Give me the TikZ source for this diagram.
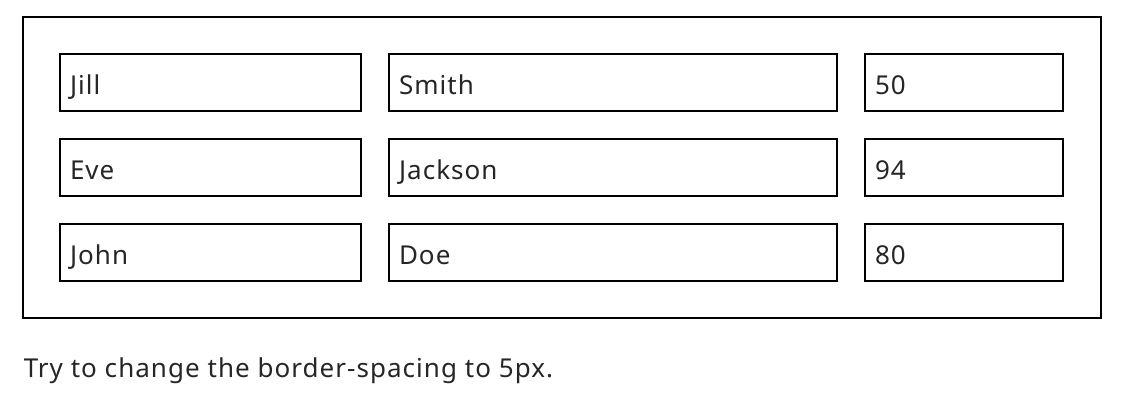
\documentclass[tikz,border=0pt]{standalone}
\usepackage{fontspec}
\setmainfont{Noto Sans}[LetterSpace=4]
\usetikzlibrary{positioning}

\begin{document}
\begin{tikzpicture}[
    x=1pt,
    y=-1pt,
    node distance=28pt,
    line width=1.5pt,
    every node/.style={font=\fontsize{26}{31}\selectfont,text=black!85},
    table node/.style={draw,minimum width=1078pt,minimum height=301pt,inner sep=0pt},
    cell node/.style={draw,minimum height=57pt,inner sep=10pt,outer sep=0pt,
      text height=26pt,text depth=3pt,align=left},
    first cell/.style={cell node,minimum width=301pt,text width=281pt},
    second cell/.style={cell node,minimum width=448pt,text width=428pt},
    third cell/.style={cell node,minimum width=198pt,text width=178pt}]

  \useasboundingbox (0,0) rectangle (1126,404);

  \node[table node] (Table) at (562,167.5) {};

  \node[first cell] (Jill) at (210.5,82.5) {Jill};
  \node[second cell] (Smith) [right=of Jill] {Smith};
  \node[third cell] (Fifty) [right=of Smith] {50};

  \node[first cell] (Eve) [below=of Jill] {Eve};
  \node[second cell] (Jackson) [right=of Eve] {Jackson};
  \node[third cell] (NinetyFour) [right=of Jackson] {94};

  \node[first cell] (John) [below=of Eve] {John};
  \node[second cell] (Doe) [right=of John] {Doe};
  \node[third cell] (Eighty) [right=of Doe] {80};

  \node[anchor=base west,inner sep=0pt] (Note) at (23,377) {Try to change the border-spacing to 5px.};
\end{tikzpicture}
\end{document}
